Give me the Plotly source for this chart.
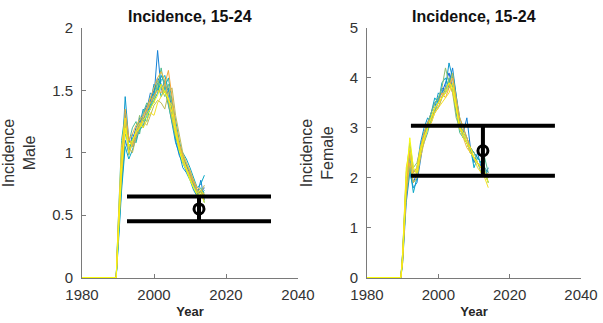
import plotly.graph_objects as go

# ---------------- data ----------------
years = [1980, 1989.5] + list(range(1990, 2015))

male_runs = [
    [0, 0, 0.30, 0.85, 1.30, 1.05, 1.10, 1.20, 1.25, 1.30, 1.38, 1.42, 1.50, 1.60, 1.55, 1.48, 1.52, 1.35, 1.15, 1.02, 0.95, 0.90, 0.82, 0.75, 0.70, 0.68, 0.72],
    [0, 0, 0.25, 0.75, 1.10, 1.00, 1.15, 1.10, 1.28, 1.25, 1.35, 1.48, 1.45, 1.82, 1.50, 1.58, 1.45, 1.30, 1.10, 0.98, 0.92, 0.85, 0.80, 0.72, 0.66, 0.78, 0.62],
    [0, 0, 0.35, 0.95, 1.45, 1.10, 1.05, 1.18, 1.22, 1.35, 1.30, 1.40, 1.55, 1.50, 1.62, 1.55, 1.40, 1.22, 1.08, 1.00, 0.88, 0.84, 0.78, 0.70, 0.65, 0.70, 0.60],
    [0, 0, 0.22, 0.70, 1.05, 0.95, 1.02, 1.12, 1.18, 1.22, 1.30, 1.35, 1.42, 1.48, 1.58, 1.62, 1.50, 1.40, 1.20, 1.05, 1.00, 0.95, 0.88, 0.80, 0.72, 0.75, 0.82],
    [0, 0, 0.40, 1.10, 1.32, 1.00, 1.12, 1.08, 1.20, 1.28, 1.25, 1.38, 1.48, 1.56, 1.45, 1.52, 1.60, 1.42, 1.25, 1.10, 0.98, 0.90, 0.85, 0.78, 0.70, 0.66, 0.70],
    [0, 0, 0.28, 0.80, 1.15, 1.08, 1.20, 1.25, 1.15, 1.32, 1.40, 1.36, 1.45, 1.52, 1.68, 1.50, 1.38, 1.25, 1.12, 1.05, 0.96, 0.88, 0.80, 0.74, 0.68, 0.72, 0.66],
    [0, 0, 0.32, 0.90, 1.22, 0.98, 1.08, 1.15, 1.30, 1.20, 1.32, 1.45, 1.40, 1.58, 1.52, 1.45, 1.55, 1.35, 1.18, 1.02, 0.94, 0.86, 0.80, 0.72, 0.68, 0.64, 0.68],
    [0, 0, 0.38, 1.00, 1.25, 1.05, 1.00, 1.12, 1.20, 1.25, 1.22, 1.30, 1.38, 1.42, 1.40, 1.35, 1.48, 1.52, 1.30, 1.15, 1.00, 0.92, 0.84, 0.76, 0.70, 0.68, 0.74],
    [0, 0, 0.30, 0.82, 1.18, 1.10, 1.15, 1.22, 1.26, 1.30, 1.36, 1.44, 1.52, 1.60, 1.65, 1.58, 1.42, 1.28, 1.14, 1.06, 0.98, 0.92, 0.86, 0.78, 0.72, 0.70, 0.64],
    [0, 0, 0.35, 0.92, 1.35, 1.12, 1.05, 1.15, 1.22, 1.28, 1.34, 1.40, 1.46, 1.50, 1.48, 1.55, 1.66, 1.45, 1.22, 1.08, 0.96, 0.88, 0.82, 0.76, 0.70, 0.66, 0.62],
    [0, 0, 0.40, 1.05, 1.28, 1.00, 1.08, 1.18, 1.24, 1.20, 1.26, 1.32, 1.30, 1.40, 1.45, 1.50, 1.42, 1.38, 1.20, 1.05, 0.95, 0.88, 0.80, 0.72, 0.68, 0.70, 0.66],
    [0, 0, 0.30, 0.88, 1.20, 1.05, 1.10, 1.16, 1.20, 1.26, 1.30, 1.35, 1.40, 1.46, 1.55, 1.48, 1.44, 1.32, 1.16, 1.02, 0.92, 0.86, 0.78, 0.72, 0.66, 0.68, 0.60],
]

female_runs = [
    [0, 0, 0.40, 1.8, 2.3, 1.9, 2.1, 2.6, 2.9, 3.1, 3.3, 3.5, 3.6, 3.7, 3.9, 4.1, 3.8, 3.3, 3.0, 2.9, 2.7, 2.6, 2.5, 2.4, 2.3, 2.2, 2.1],
    [0, 0, 0.30, 1.5, 2.1, 1.8, 1.9, 2.4, 2.8, 3.0, 3.2, 3.4, 3.5, 3.8, 3.7, 3.9, 4.2, 3.6, 3.1, 2.9, 3.2, 2.6, 2.3, 2.5, 2.2, 2.0, 2.2],
    [0, 0, 0.50, 2.0, 2.6, 2.1, 2.2, 2.7, 3.0, 3.2, 3.1, 3.4, 3.7, 3.6, 3.8, 4.3, 4.0, 3.5, 3.0, 2.8, 2.7, 2.5, 2.4, 2.3, 2.2, 2.1, 1.9],
    [0, 0, 0.35, 1.7, 2.2, 1.7, 2.0, 2.5, 2.9, 3.0, 3.3, 3.6, 3.5, 3.9, 4.0, 3.8, 3.9, 3.4, 3.1, 2.8, 2.7, 2.6, 2.2, 2.4, 2.3, 2.1, 2.0],
    [0, 0, 0.45, 1.9, 2.4, 2.0, 2.1, 2.6, 2.8, 3.1, 3.2, 3.3, 3.6, 3.7, 3.8, 3.9, 4.1, 3.6, 3.2, 3.0, 2.8, 2.6, 2.5, 2.4, 2.3, 2.2, 2.0],
    [0, 0, 0.40, 1.6, 2.2, 1.9, 2.0, 2.5, 2.7, 2.9, 3.2, 3.4, 3.4, 3.6, 3.7, 4.0, 3.8, 3.3, 2.9, 2.8, 2.7, 2.5, 2.4, 2.3, 2.2, 2.4, 2.1],
    [0, 0, 0.50, 2.1, 2.7, 2.2, 2.3, 2.6, 2.9, 3.1, 3.3, 3.5, 3.6, 3.8, 4.2, 3.9, 3.7, 3.2, 3.0, 2.9, 2.8, 2.6, 2.5, 2.3, 2.1, 2.2, 1.9],
    [0, 0, 0.40, 1.8, 2.5, 2.0, 2.1, 2.5, 2.8, 3.0, 3.2, 3.3, 3.5, 3.6, 3.7, 3.8, 4.1, 3.5, 3.1, 2.9, 2.7, 2.5, 2.4, 2.3, 2.2, 2.1, 2.0],
    [0, 0, 0.30, 1.7, 2.3, 1.9, 2.0, 2.4, 2.7, 3.0, 3.1, 3.3, 3.4, 3.6, 3.8, 3.9, 3.7, 3.4, 3.0, 2.8, 2.6, 2.5, 2.4, 2.3, 2.2, 2.1, 2.0],
    [0, 0, 0.45, 1.9, 2.5, 2.1, 2.2, 2.6, 2.9, 3.1, 3.2, 3.4, 3.5, 3.7, 3.6, 3.8, 4.0, 3.6, 3.2, 3.0, 2.8, 2.6, 2.4, 2.3, 2.2, 2.0, 2.1],
    [0, 0, 0.50, 2.2, 2.6, 2.0, 2.2, 2.6, 2.8, 3.0, 3.1, 3.3, 3.4, 3.5, 3.6, 3.7, 3.9, 3.4, 3.0, 2.8, 2.7, 2.5, 2.4, 2.2, 2.1, 2.0, 1.8],
    [0, 0, 0.40, 2.0, 2.8, 2.2, 2.1, 2.5, 2.8, 3.0, 3.2, 3.4, 3.5, 3.6, 3.7, 3.9, 3.8, 3.4, 3.0, 2.9, 2.7, 2.6, 2.4, 2.3, 2.2, 2.1, 1.9],
]

run_colors = ["#0f5cdd", "#1481d6", "#0b98cc", "#06a7c6", "#1cb3b0", "#4ebc8e",
              "#8bbf6d", "#c1bb55", "#ecb940", "#f5a83a", "#f5e025", "#f9fb0e"]

obs_year = [2012.5]
male_obs = [0.55]
male_err = [0.10]
female_obs = [2.54]
female_err = [0.50]

panel_title = "Incidence, 15-24"
x_ticks = [1980, 2000, 2020, 2040]
male_ticks = [0, 0.5, 1, 1.5, 2]
female_ticks = [0, 1, 2, 3, 4, 5]

# ---------------- figure ----------------
W, H = 603, 323
fig = go.Figure()

for runs, xa, ya in [(male_runs, "x", "y"), (female_runs, "x2", "y2")]:
    for i, r in enumerate(runs):
        fig.add_trace(go.Scatter(x=years, y=r, mode="lines", xaxis=xa, yaxis=ya,
                                 line=dict(color=run_colors[i], width=1),
                                 showlegend=False, hoverinfo="skip"))

for obs, err, xa, ya in [(male_obs, male_err, "x", "y"), (female_obs, female_err, "x2", "y2")]:
    fig.add_trace(go.Scatter(
        x=obs_year, y=obs, mode="markers", xaxis=xa, yaxis=ya, showlegend=False,
        marker=dict(symbol="circle-open", size=10, color="black", line=dict(width=3, color="black")),
        error_y=dict(type="data", array=err, visible=True, color="black", thickness=4, width=72)))

font = "Liberation Sans, Arial, sans-serif"
axis_common = dict(showline=True, linecolor="#7a7a7a", linewidth=1, ticks="inside", ticklen=4,
                   tickcolor="#7a7a7a", showgrid=False, zeroline=False, automargin=False,
                   layer="below traces",
                   tickfont=dict(family=font, size=15, color="#333333"), mirror=False)

def px_x(sx):
    return sx / W

def px_y(sy):
    return 1 - sy / H

ydom = [px_y(278), px_y(28)]
xtitle = dict(text="<b>Year</b>", font=dict(family=font, size=13, color="#262626"), standoff=4)
ytitle_font = dict(family=font, size=16, color="#333333")
title_font = dict(family=font, size=16, color="#111111")
fig.update_layout(
    width=W, height=H, margin=dict(l=0, r=0, t=0, b=0),
    plot_bgcolor="white", paper_bgcolor="white",
    xaxis=dict(domain=[px_x(82), px_x(298)], range=[1980, 2040], tickvals=x_ticks, anchor="y",
               title=xtitle, ticklabelstandoff=3, **axis_common),
    yaxis=dict(domain=ydom, range=[-0.004, 2], tickvals=male_ticks, anchor="x",
               title=dict(text="Incidence<br>Male", font=ytitle_font, standoff=12),
               ticklabelstandoff=5, **axis_common),
    xaxis2=dict(domain=[px_x(367), px_x(581)], range=[1980, 2040], tickvals=x_ticks, anchor="y2",
                title=xtitle, ticklabelstandoff=3, **axis_common),
    yaxis2=dict(domain=ydom, range=[-0.01, 5], tickvals=female_ticks, anchor="x2",
                title=dict(text="Incidence<br>Female", font=ytitle_font, standoff=12),
                ticklabelstandoff=5, **axis_common),
    annotations=[
        dict(text="<b>" + panel_title + "</b>", x=px_x((82 + 298) / 2), y=px_y(16), xref="paper", yref="paper",
             showarrow=False, font=title_font, xanchor="center", yanchor="middle"),
        dict(text="<b>" + panel_title + "</b>", x=px_x((367 + 581) / 2), y=px_y(16), xref="paper", yref="paper",
             showarrow=False, font=title_font, xanchor="center", yanchor="middle"),
    ],
)

# remove the default 8px page margin so the figure sits at the window's top-left corner
fig.write_html("out.html", config={"displayModeBar": False},
               post_script="document.body.style.margin='0';document.body.style.overflow='hidden';")
